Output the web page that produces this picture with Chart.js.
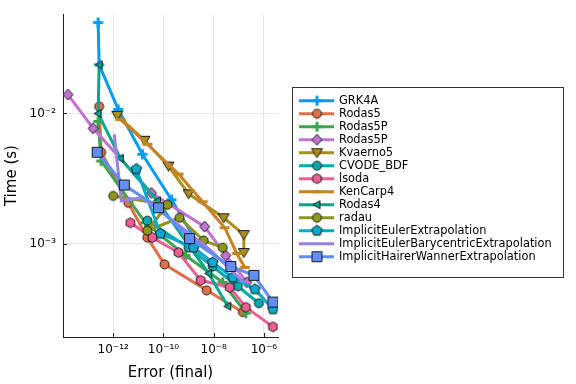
<!DOCTYPE html>
<html>
<head>
<meta charset="utf-8">
<script src="https://cdn.jsdelivr.net/npm/chart.js@4.4.0/dist/chart.umd.min.js"></script>
<style>
  body { margin: 0; background: #fff; }
</style>
</head>
<body>
<canvas id="myChart" width="576" height="384"></canvas>
<script>
// work-precision data
var seriesNames = ["GRK4A", "Rodas5", "Rodas5P", "Rodas5P", "Kvaerno5", "CVODE_BDF", "lsoda",
  "KenCarp4", "Rodas4", "radau", "ImplicitEulerExtrapolation",
  "ImplicitEulerBarycentricExtrapolation", "ImplicitHairerWannerExtrapolation"];

var errGRK4A = [2.5e-13, 2.75e-13, 1.58e-12, 1.45e-11, 2.09e-10, 2.29e-9];
var timeGRK4A = [0.0499, 0.02366, 0.01073, 0.00486, 0.00217, 0.001];

var errRodas5 = [2.75e-13, 3.31e-13, 3.98e-12, 2.29e-11, 1.10e-10, 5.25e-9, 1.45e-7];
var timeRodas5 = [0.0113, 0.00503, 0.002056, 0.001111, 6.92e-4, 4.37e-4, 2.97e-4];

var errRodas5P = [2.5e-13, 3.31e-13, 1.91e-11, 7.59e-10, 2.29e-8, 1.91e-7];
var timeRodas5P = [0.00869, 0.00431, 0.001445, 8.09e-4, 5.04e-4, 2.92e-4];

var errRodas5Pb = [1.58e-14, 1.58e-13, 3.31e-11, 4.37e-9, 3.02e-8, 2.09e-7];
var timeRodas5Pb = [0.01396, 0.00768, 0.002448, 0.001349, 8.09e-4, 5.04e-4];

var errKvaerno5 = [1.445e-12, 1.74e-11, 1.585e-10, 1e-9, 2.51e-8, 1.585e-7, 1.585e-7];
var timeKvaerno5 = [0.00966, 0.00622, 0.00394, 0.00241, 0.001578, 0.001172, 8.53e-4];

var errCVODE = [2.29e-11, 1e-9, 9.12e-9, 9.12e-8, 6.31e-7];
var timeCVODE = [0.0015, 9.31e-4, 6.67e-4, 4.70e-4, 3.48e-4];

var errLsoda = [4.79e-12, 3.63e-11, 3.98e-10, 3.02e-9, 4.37e-8, 1.91e-7, 2.29e-6];
var timeLsoda = [0.001445, 0.001111, 8.53e-4, 5.22e-4, 4.61e-4, 3.24e-4, 2.29e-4];

var errKenCarp4 = [1.905e-12, 2.29e-11, 3.98e-10, 3.63e-9, 2.75e-8, 8.32e-8, 1.74e-7];
var timeKenCarp4 = [0.009, 0.0058, 0.00342, 0.002094, 0.001324, 8.39e-4, 6.56e-4];

var errRodas4 = [2.75e-13, 2.5e-13, 1.905e-12, 5.75e-11, 6.31e-9, 3.63e-8];
var timeRodas4 = [0.02366, 0.01, 0.00453, 0.00213, 5.90e-4, 3.30e-4];

var errRadau = [2.29e-8, 3.98e-9, 4.37e-10, 2.29e-11, 1.445e-10, 1e-12];
var timeRadau = [9.31e-4, 0.001055, 0.001578, 0.001256, 0.001986, 0.002323];

var errIEE = [8.32e-12, 7.59e-11, 1.585e-9, 9.12e-9, 5.75e-8, 4.37e-7, 2.29e-6];
var timeIEE = [0.00374, 0.001191, 9.31e-4, 7.16e-4, 5.49e-4, 4.46e-4, 3.13e-4];

var errIEBE = [1.096e-12, 2.09e-12, 1.45e-11, 3.02e-10, 7.59e-9, 1.585e-7];
var timeIEBE = [0.00692, 0.00213, 0.002244, 0.001445, 8.85e-4, 5.04e-4];

var errIHWE = [2.29e-13, 2.75e-12, 6.31e-11, 1.096e-9, 4.79e-8, 3.98e-7, 2.29e-6];
var timeIHWE = [0.00503, 0.002818, 0.001884, 0.001092, 6.67e-4, 5.70e-4, 3.55e-4];

var xTickVals = [1e-12, 1e-10, 1e-8, 1e-6];
var xTickLabels = ["10\u207B\u00B9\u00B2", "10\u207B\u00B9\u2070", "10\u207B\u2078", "10\u207B\u2076"];
var yTickVals = [1e-3, 1e-2];
var yTickLabels = ["10\u207B\u00B3", "10\u207B\u00B2"];

var allErr = [errGRK4A, errRodas5, errRodas5P, errRodas5Pb, errKvaerno5, errCVODE, errLsoda,
  errKenCarp4, errRodas4, errRadau, errIEE, errIEBE, errIHWE];
var allTime = [timeGRK4A, timeRodas5, timeRodas5P, timeRodas5Pb, timeKvaerno5, timeCVODE, timeLsoda,
  timeKenCarp4, timeRodas4, timeRadau, timeIEE, timeIEBE, timeIHWE];

var colores = ["#009AFA", "#E36F47", "#3EA44E", "#C271D2", "#AC8E18", "#00A9AD", "#ED5E93",
  "#C68225", "#00A98D", "#8E971D", "#00A9CD", "#9B7FE9", "#618DF6"];
var marcas = ["cross", "circle", "cross", "diamond", "dtriangle", "circle", "hexagon",
  "hline", "ltriangle", "circle", "pentagon", "none", "square"];

var FONT = "'DejaVu Sans', sans-serif";

function polygon(ctx, cx, cy, n, r, rot) {
  for (var k = 0; k < n; k++) {
    var ang = rot + k * 2 * Math.PI / n;
    var px = cx + r * Math.cos(ang), py = cy + r * Math.sin(ang);
    if (k === 0) ctx.moveTo(px, py); else ctx.lineTo(px, py);
  }
  ctx.closePath();
}

function makeMarker(shape, color) {
  if (shape === "none") return false;
  var c = document.createElement("canvas");
  c.width = 15; c.height = 15;
  var ctx = c.getContext("2d");
  var m = 7.5;
  ctx.fillStyle = color;
  ctx.strokeStyle = "#1a1a1a";
  ctx.lineWidth = 1;
  ctx.beginPath();
  if (shape === "cross" || shape === "hline") {
    ctx.strokeStyle = color;
    ctx.lineWidth = 3;
    ctx.moveTo(m - 5, m); ctx.lineTo(m + 5, m);
    if (shape === "cross") { ctx.moveTo(m, m - 5); ctx.lineTo(m, m + 5); }
    ctx.stroke();
    return c;
  }
  if (shape === "circle") ctx.arc(m, m, 4.5, 0, 2 * Math.PI);
  else if (shape === "square") ctx.rect(m - 5, m - 5, 10, 10);
  else if (shape === "diamond") {
    ctx.moveTo(m, m - 5.5); ctx.lineTo(m + 5, m); ctx.lineTo(m, m + 5.5); ctx.lineTo(m - 5, m); ctx.closePath();
  } else if (shape === "dtriangle") {
    ctx.moveTo(m - 5.5, m - 4); ctx.lineTo(m + 5.5, m - 4); ctx.lineTo(m, m + 5); ctx.closePath();
  } else if (shape === "ltriangle") {
    ctx.moveTo(m - 4, m); ctx.lineTo(m + 3, m - 4); ctx.lineTo(m + 3, m + 4); ctx.closePath();
  } else if (shape === "hexagon") polygon(ctx, m, m, 6, 5, Math.PI / 2);
  else if (shape === "pentagon") polygon(ctx, m, m, 5, 5.5, -Math.PI / 2);
  ctx.fill();
  ctx.stroke();
  return c;
}

var imgs = marcas.map(function (s, i) { return makeMarker(s, colores[i]); });

var datasets = seriesNames.map(function (name, i) {
  return {
    label: name,
    data: allErr[i].map(function (e, j) { return { x: e, y: allTime[i][j] }; }),
    showLine: true,
    borderColor: colores[i],
    backgroundColor: colores[i],
    borderWidth: 3,
    pointStyle: imgs[i],
    pointRadius: imgs[i] ? 5 : 0,
    order: seriesNames.length - i
  };
});

// legend box + inner tick marks like the original plot
var extras = {
  id: "extras",
  afterDraw: function (chart) {
    var ctx = chart.ctx;
    var a = chart.chartArea;
    ctx.save();
    ctx.strokeStyle = "#222";
    ctx.lineWidth = 1;
    chart.scales.x.ticks.forEach(function (t) {
      var px = Math.round(chart.scales.x.getPixelForValue(t.value)) + 0.5;
      ctx.beginPath(); ctx.moveTo(px, a.bottom); ctx.lineTo(px, a.bottom - 4); ctx.stroke();
    });
    chart.scales.y.ticks.forEach(function (t) {
      var py = Math.round(chart.scales.y.getPixelForValue(t.value)) + 0.5;
      ctx.beginPath(); ctx.moveTo(a.left, py); ctx.lineTo(a.left + 4, py); ctx.stroke();
    });

    var bx = 292.5, by = 87.5, bw = 271, bh = 190;
    ctx.fillStyle = "#fff";
    ctx.fillRect(bx, by, bw, bh);
    ctx.strokeStyle = "#333";
    ctx.strokeRect(bx, by, bw, bh);
    ctx.font = "11.4px " + FONT;
    ctx.textBaseline = "middle";
    seriesNames.forEach(function (name, i) {
      var y = 100.7 + 13 * i;
      ctx.strokeStyle = colores[i];
      ctx.lineWidth = 3;
      ctx.beginPath(); ctx.moveTo(299, y); ctx.lineTo(334, y); ctx.stroke();
      if (imgs[i]) ctx.drawImage(imgs[i], 317 - 7.5, y - 7.5);
      ctx.fillStyle = "#000";
      ctx.fillText(name, 339, y);
    });
    ctx.restore();
  }
};

var myChart = new Chart(document.getElementById("myChart"), {
  type: "scatter",
  data: { datasets: datasets },
  options: {
    responsive: false,
    animation: false,
    layout: { padding: { left: 0, top: 12, right: 298, bottom: 0 } },
    elements: { line: { tension: 0 } },
    plugins: { legend: { display: false }, tooltip: { enabled: false } },
    scales: {
      x: {
        type: "logarithmic",
        min: 1e-14,
        max: 3.63e-6,
        afterBuildTicks: function (s) { s.ticks = xTickVals.map(function (v) { return { value: v }; }); },
        afterFit: function (s) { s.height = 47; },
        ticks: {
          autoSkip: false, maxRotation: 0, padding: 6, color: "#000",
          font: { family: FONT, size: 12 },
          callback: function (v, i) { return xTickLabels[i]; }
        },
        grid: { color: "rgba(0,0,0,0.09)", drawTicks: false },
        border: { display: true, color: "#222", width: 1 },
        title: { display: true, text: "Error (final)", color: "#000", font: { family: FONT, size: 15 }, padding: { top: 0, bottom: 2 } }
      },
      y: {
        type: "logarithmic",
        min: 1.914e-4,
        max: 0.0579,
        afterBuildTicks: function (s) { s.ticks = yTickVals.map(function (v) { return { value: v }; }); },
        afterFit: function (s) { s.width = 63; },
        ticks: {
          autoSkip: false, padding: 7, color: "#000",
          font: { family: FONT, size: 12 },
          callback: function (v, i) { return yTickLabels[i]; }
        },
        grid: { color: "rgba(0,0,0,0.09)", drawTicks: false },
        border: { display: true, color: "#222", width: 1 },
        title: { display: true, text: "Time (s)", color: "#000", font: { family: FONT, size: 15 }, padding: { top: 3, bottom: 0 } }
      }
    }
  },
  plugins: [extras]
});
</script>
</body>
</html>
